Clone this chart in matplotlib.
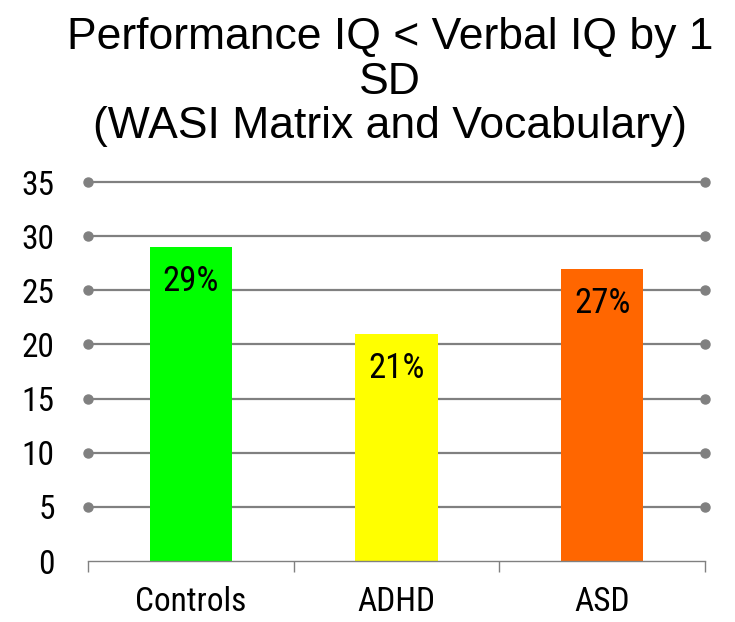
import numpy as np
import matplotlib.pyplot as plt

# datos
grupos = ['Controls', 'ADHD', 'ASD']
porcentajes = [29, 21, 27]
colores = ['#00FF00', '#FFFF00', '#FF6600']
ticks_y = [0, 5, 10, 15, 20, 25, 30, 35]

plt.rcParams['font.family'] = ['Liberation Sans', 'DejaVu Sans']
estrecha = ['Roboto Condensed', 'Liberation Sans', 'DejaVu Sans']

fig = plt.figure(figsize=(7.35, 6.22), dpi=100)
ax = fig.add_axes([88 / 735, 61 / 622, 617 / 735, 379 / 622])

x = np.arange(len(grupos))
ax.set_xlim(-0.5, len(grupos) - 0.5)
ax.set_ylim(0, 35)

# lineas guia con puntos en los extremos
for yv in ticks_y[1:]:
    ax.plot([-0.5, len(grupos) - 0.5], [yv, yv], '-', color='#808080', lw=1.6,
            marker='o', markersize=6.5, clip_on=False, zorder=1)

ax.bar(x, porcentajes, width=0.40, color=colores, zorder=2)

for xi, v in zip(x, porcentajes):
    ax.annotate(f'{v}%', (xi, v), xytext=(0, -13), textcoords='offset points',
                ha='center', va='top', fontsize=25, family=estrecha, zorder=3)

for s in ['top', 'right', 'left']:
    ax.spines[s].set_visible(False)
ax.spines['bottom'].set_color('#808080')
ax.spines['bottom'].set_linewidth(1.0)
ax.spines['bottom'].set_zorder(4)

ax.set_yticks(ticks_y)
ax.set_yticklabels([str(t) for t in ticks_y], fontsize=24, family=estrecha)
ax.tick_params(axis='y', length=0, pad=24)

ax.set_xticks(x)
ax.set_xticklabels(grupos, fontsize=24, family=estrecha)
ax.set_xticks(np.arange(-0.5, len(grupos)), minor=True)
ax.tick_params(axis='x', which='major', length=0, pad=18)
ax.tick_params(axis='x', which='minor', length=8, color='#808080', width=1.0)

fig.text(390 / 735, 1 - 82 / 622, 'Performance IQ < Verbal IQ by 1\nSD\n(WASI Matrix and Vocabulary)',
         ha='center', va='center', fontsize=32, linespacing=1.12)

fig.savefig('out.png', dpi=100)
